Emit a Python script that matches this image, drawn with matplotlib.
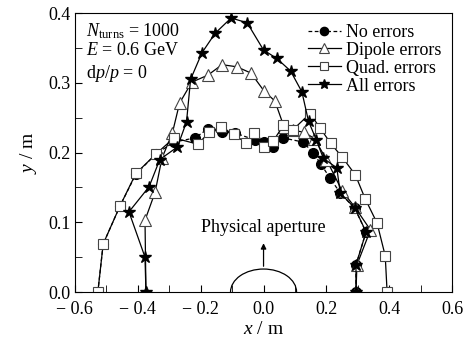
import numpy as np
import matplotlib
matplotlib.use("Agg")
import matplotlib.pyplot as plt
from matplotlib.patches import Arc
from matplotlib.ticker import MultipleLocator

plt.rcParams["font.family"] = "Liberation Serif"
plt.rcParams["mathtext.fontset"] = "custom"
plt.rcParams["mathtext.rm"] = "Liberation Serif"
plt.rcParams["mathtext.it"] = "Liberation Serif:italic"

# dynamic aperture data
x_none = [-0.527, -0.51, -0.457, -0.406, -0.342, -0.285, -0.218, -0.177, -0.132, -0.09,
          -0.027, 0.003, 0.03, 0.062, 0.126, 0.157, 0.183, 0.212, 0.244, 0.29, 0.326, 0.294, 0.294]
y_none = [0.0, 0.069, 0.123, 0.169, 0.198, 0.215, 0.221, 0.234, 0.229, 0.228,
          0.218, 0.215, 0.208, 0.221, 0.215, 0.200, 0.183, 0.163, 0.142, 0.12, 0.086, 0.039, 0.0]

x_dip = [-0.374, -0.377, -0.345, -0.323, -0.29, -0.267, -0.228, -0.177, -0.132, -0.085, -0.04,
         0.002, 0.036, 0.065, 0.094, 0.13, 0.162, 0.2, 0.25, 0.29, 0.34, 0.297, 0.294]
y_dip = [0.0, 0.103, 0.143, 0.192, 0.228, 0.271, 0.301, 0.311, 0.326, 0.323, 0.314,
         0.288, 0.274, 0.237, 0.232, 0.229, 0.220, 0.19, 0.145, 0.122, 0.089, 0.039, 0.0]

x_quad = [-0.527, -0.51, -0.457, -0.406, -0.342, -0.285, -0.209, -0.173, -0.136, -0.095, -0.056,
          -0.03, 0.0, 0.03, 0.063, 0.094, 0.148, 0.18, 0.214, 0.251, 0.292, 0.323, 0.361, 0.387, 0.393]
y_quad = [0.0, 0.069, 0.123, 0.170, 0.198, 0.221, 0.212, 0.229, 0.237, 0.226, 0.214,
          0.228, 0.208, 0.216, 0.239, 0.233, 0.256, 0.235, 0.213, 0.193, 0.168, 0.134, 0.099, 0.052, 0.0]

x_all = [-0.374, -0.377, -0.428, -0.364, -0.33, -0.274, -0.245, -0.232, -0.196, -0.154, -0.103,
         -0.052, 0.0, 0.042, 0.086, 0.122, 0.143, 0.168, 0.19, 0.233, 0.244, 0.291, 0.326, 0.294, 0.294]
y_all = [0.0, 0.05, 0.115, 0.151, 0.19, 0.208, 0.244, 0.305, 0.343, 0.371, 0.393,
         0.386, 0.347, 0.335, 0.317, 0.287, 0.245, 0.218, 0.192, 0.178, 0.142, 0.12, 0.086, 0.039, 0.0]

fig = plt.figure(figsize=(4.77, 3.44), dpi=100)
ax = fig.add_axes([0.157, 0.151, 0.791, 0.811])

ms = 7
ax.plot(x_none, y_none, "k--", marker="o", ms=ms, mfc="k", lw=0.9, dashes=(3, 2), label="No errors")
ax.plot(x_dip, y_dip, "k-", marker="^", ms=ms + 1, mfc="white", mec="#444444", mew=0.8, lw=0.9, label="Dipole errors")
ax.plot(x_quad, y_quad, "k-", marker="s", ms=ms, mfc="white", mec="#444444", mew=0.8, lw=0.9, label="Quad. errors")
ax.plot(x_all, y_all, "k-", marker="*", ms=ms + 2, mfc="k", lw=0.9, label="All errors")

# physical aperture sketch
ax.add_patch(Arc((0, 0), 0.21, 0.066, theta1=0, theta2=180, color="k", lw=0.9))
ax.annotate("", xy=(0, 0.074), xytext=(0, 0.033),
            arrowprops=dict(arrowstyle="-|>", color="k", lw=0.9, mutation_scale=8))
ax.text(0, 0.081, "Physical aperture", ha="center", va="bottom", fontsize=13)

ax.text(0.03, 0.97, r"$N_{\rm turns}$ = 1000", transform=ax.transAxes, fontsize=13, va="top")
ax.text(0.03, 0.895, r"$E$ = 0.6 GeV", transform=ax.transAxes, fontsize=13, va="top")
ax.text(0.03, 0.82, r"d$p$/$p$ = 0", transform=ax.transAxes, fontsize=13, va="top")

ax.set_xlim(-0.6, 0.6)
ax.set_ylim(0, 0.4)
ax.xaxis.set_major_locator(MultipleLocator(0.2))
ax.xaxis.set_minor_locator(MultipleLocator(0.1))
ax.yaxis.set_major_locator(MultipleLocator(0.1))
ax.yaxis.set_minor_locator(MultipleLocator(0.05))
ax.xaxis.set_major_formatter(plt.FuncFormatter(lambda v, p: f"{v:.1f}".replace("-", "\u2212 ")))
ax.yaxis.set_major_formatter(plt.FuncFormatter(lambda v, p: f"{v:.1f}"))
ax.tick_params(which="both", direction="in", labelsize=13, length=5)
ax.tick_params(axis="x", which="major", pad=6.5)
ax.tick_params(axis="y", which="major", pad=3)
ax.set_xlabel(r"$x$ / m", fontsize=14, labelpad=2)
ax.set_ylabel(r"$y$ / m", fontsize=14, labelpad=7)

ax.legend(loc="upper right", frameon=False, fontsize=13, handlelength=1.8, handletextpad=0.3,
          labelspacing=0.05, borderaxespad=0.2, markerscale=0.85)

fig.savefig("out.png", dpi=100)
